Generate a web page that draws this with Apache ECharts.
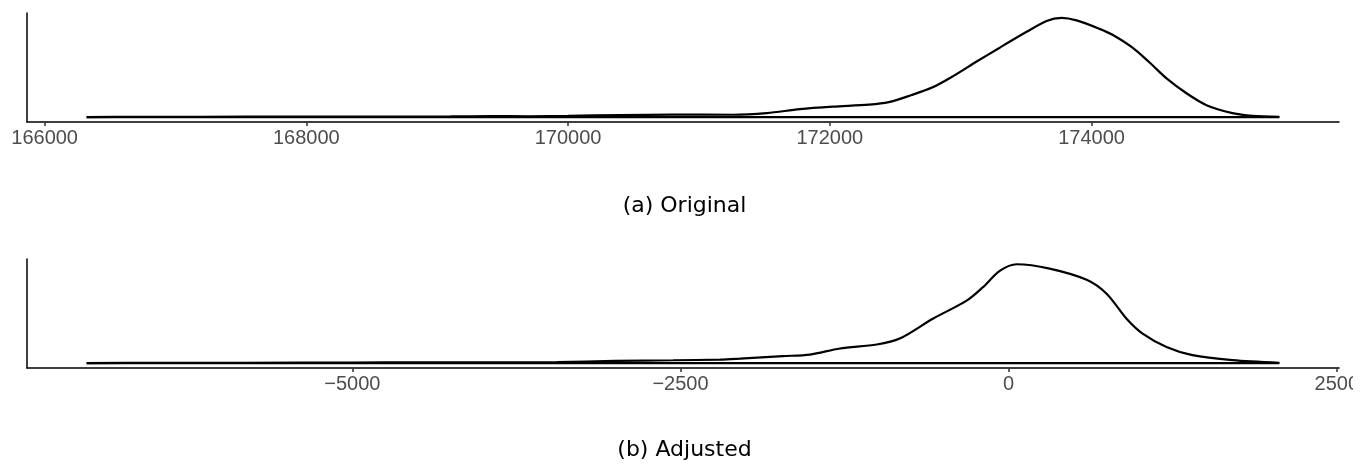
<!DOCTYPE html>
<html>
<head>
<meta charset="utf-8">
<script src="https://cdn.jsdelivr.net/npm/echarts@6/dist/echarts.min.js"></script>
<style>
  html, body { margin: 0; padding: 0; background: #fff; }
  #chart { width: 1369px; height: 466px; }
</style>
</head>
<body>
<div id="chart"></div>
<script>
// Kernel density (scaled to peak = 1) of the original totals
const originalX = [166321, 166700, 167200, 167900, 168600, 169100, 169400, 169700, 170000, 170400,
  170800, 171260, 171519, 171771, 172023, 172300, 172450, 172620, 172786, 172939,
  173122, 173298, 173504, 173656, 173771, 173885, 174061, 174160, 174313, 174443,
  174573, 174725, 174878, 175076, 175229, 175435];
const originalDensity = [0, 0.002, 0.003, 0.004, 0.004, 0.006, 0.009, 0.008, 0.012, 0.02,
  0.024, 0.023, 0.04, 0.08, 0.105, 0.125, 0.15, 0.22, 0.30, 0.41,
  0.56, 0.70, 0.86, 0.97, 1.0, 0.975, 0.89, 0.83, 0.70, 0.55,
  0.39, 0.24, 0.12, 0.04, 0.012, 0.003];

// Kernel density (scaled to peak = 1) of the adjusted values
const adjustedX = [-7024, -6500, -5800, -5000, -4500, -4000, -3440, -3000, -2557, -2200,
  -2047, -1720, -1514, -1286, -1005, -830, -578, -320, -198, -68,
  61, 312, 594, 746, 898, 1020, 1202, 1400, 1705, 2062];
const adjustedDensity = [0, 0.002, 0.003, 0.004, 0.008, 0.006, 0.01, 0.022, 0.028, 0.035,
  0.045, 0.07, 0.085, 0.147, 0.187, 0.247, 0.447, 0.63, 0.763, 0.93,
  0.997, 0.953, 0.84, 0.70, 0.447, 0.297, 0.163, 0.08, 0.03, 0.003];

const originalTicks = [166000, 168000, 170000, 172000, 174000];
const adjustedTicks = [-5000, -2500, 0, 2500];

const panelTitles = ['(a) Original', '(b) Adjusted'];

function pairs(xs, ys) { return xs.map((x, i) => [x, ys[i]]); }
// padded range like ggplot's 5% expansion
function expanded(xs) {
  const lo = Math.min(...xs), hi = Math.max(...xs), pad = (hi - lo) * 0.05;
  return [lo - pad, hi + pad];
}

const tickColor = '#333333';
const labelColor = '#4d4d4d';

function xAxisFor(gridIndex, xs, ticks) {
  const [min, max] = expanded(xs);
  return {
    type: 'value', gridIndex, min, max,
    axisLine: { show: true, onZero: false, lineStyle: { color: '#000', width: 1.5 } },
    axisTick: { show: true, customValues: ticks, length: 4, lineStyle: { color: tickColor, width: 1.5 } },
    axisLabel: {
      show: true, customValues: ticks, margin: 6,
      color: labelColor, fontSize: 20, fontFamily: 'Liberation Sans, Arial, sans-serif',
      formatter: v => String(v).replace('-', '\u2212')
    },
    splitLine: { show: false }
  };
}
function yAxisFor(gridIndex) {
  return {
    type: 'value', gridIndex, min: -0.05, max: 1.05,
    axisLine: { show: true, onZero: false, lineStyle: { color: '#000', width: 1.5 } },
    axisTick: { show: false }, axisLabel: { show: false }, splitLine: { show: false }
  };
}
function densitySeries(idx, xs, ys) {
  return [{
    type: 'line', xAxisIndex: idx, yAxisIndex: idx,
    data: pairs(xs, ys), showSymbol: false, smooth: 0.3,
    lineStyle: { color: '#000', width: 2.2 }, silent: true, z: 3
  }, {
    // closing edge of the density outline along zero
    type: 'line', xAxisIndex: idx, yAxisIndex: idx,
    data: [[xs[0], 0], [xs[xs.length - 1], 0]], showSymbol: false,
    lineStyle: { color: '#000', width: 2.2 }, silent: true, z: 3
  }];
}

const chart = echarts.init(document.getElementById('chart'), null, { renderer: 'canvas' });
chart.setOption({
  animation: false,
  backgroundColor: '#fff',
  grid: [
    { left: 27, right: 30, top: 13, height: 109 },
    { left: 27, right: 30, top: 259, height: 109 }
  ],
  xAxis: [xAxisFor(0, originalX, originalTicks), xAxisFor(1, adjustedX, adjustedTicks)],
  yAxis: [yAxisFor(0), yAxisFor(1)],
  series: [...densitySeries(0, originalX, originalDensity), ...densitySeries(1, adjustedX, adjustedDensity)],
  title: [
    { text: panelTitles[0], left: 'center', top: 195, padding: 0,
      textStyle: { fontFamily: 'DejaVu Sans', fontWeight: 'normal', fontSize: 22, color: '#000' } },
    { text: panelTitles[1], left: 'center', top: 439, padding: 0,
      textStyle: { fontFamily: 'DejaVu Sans', fontWeight: 'normal', fontSize: 22, color: '#000' } }
  ],
  graphic: [
    // right page margin mask
    { type: 'rect', right: 0, top: 0, shape: { width: 16, height: 466 }, style: { fill: '#fff' }, z: 100 }
  ]
});
</script>
</body>
</html>
